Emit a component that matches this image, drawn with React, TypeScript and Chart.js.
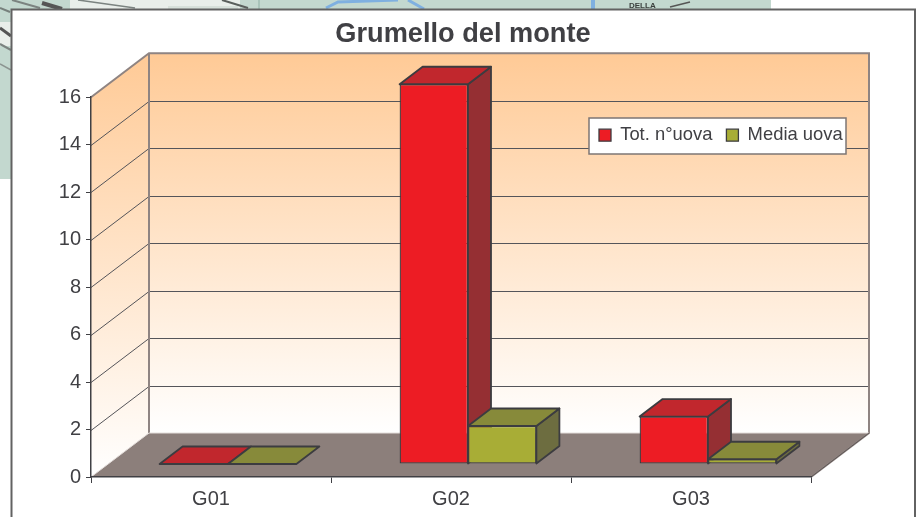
import React, { useEffect, useRef } from "react";
import { Chart, registerables } from "chart.js";

Chart.register(...registerables);

const chartTitle = "Grumello del monte";
const categories = ["G01", "G02", "G03"];
const totalEggs = [0, 16, 2];
const meanEggs = [0, 1.6, 0.2];
const seriesNames = ["Tot. n°uova", "Media uova"];

const FONT = "'Liberation Sans', Arial, sans-serif";
const INK = "#404044";
const EDGE = "#3c3c40";
const WALL_EDGE = "#8f8482";
const WALL_DX = 58;
const WALL_DY = -44;
const BAR_SHIFT_X = 17;
const BAR_SHIFT_Y = -13;
const BAR_DX = 23;
const BAR_DY = -17.5;
const EDGE_W = 1.8;
const FRONT_EDGE_W = 1.3;

const shades: Record<string, { top: string; side: string }> = {
  "#ED1C24": { top: "#C1272D", side: "#952F33" },
  "#A8AD36": { top: "#878A3A", side: "#6D6D40" },
};

function poly(ctx: CanvasRenderingContext2D, pts: number[][], fill?: string | CanvasGradient, stroke?: string, lw = 1) {
  ctx.beginPath();
  pts.forEach((p, i) => (i ? ctx.lineTo(p[0], p[1]) : ctx.moveTo(p[0], p[1])));
  ctx.closePath();
  if (fill) {
    ctx.fillStyle = fill;
    ctx.fill();
  }
  if (stroke) {
    ctx.strokeStyle = stroke;
    ctx.lineWidth = lw;
    ctx.lineJoin = "round";
    ctx.stroke();
  }
}

function line(ctx: CanvasRenderingContext2D, pts: number[][], color: string, lw = 1) {
  ctx.beginPath();
  pts.forEach((p, i) => (i ? ctx.lineTo(p[0], p[1]) : ctx.moveTo(p[0], p[1])));
  ctx.strokeStyle = color;
  ctx.lineWidth = lw;
  ctx.stroke();
}

// The map photo that shows behind the chart card
function drawBackdrop(ctx: CanvasRenderingContext2D) {
  ctx.fillStyle = "#ffffff";
  ctx.fillRect(0, 0, 919, 517);
  ctx.fillStyle = "#c3d8cf";
  ctx.fillRect(0, 0, 771, 12);
  ctx.fillRect(0, 0, 12, 179);
  ctx.fillStyle = "#e9eeea";
  ctx.fillRect(0, 22, 12, 24);
  ctx.fillRect(70, 0, 170, 12);
  ctx.fillStyle = "#a9c4ba";
  ctx.fillRect(258, 0, 2, 12);
  ctx.fillStyle = "#d7e0da";
  ctx.fillRect(168, 6, 70, 3);
  line(ctx, [[0, 8], [10, 12]], "#77807c", 2);
  line(ctx, [[0, 28], [11, 36]], "#555", 3);
  line(ctx, [[0, 44], [11, 50]], "#7b8380", 2);
  line(ctx, [[0, 64], [11, 70]], "#8b9490", 1.5);
  line(ctx, [[12, 0], [40, 8]], "#7b8380", 2);
  line(ctx, [[42, 3], [62, 9]], "#555", 4);
  line(ctx, [[78, 0], [135, 8]], "#7b8380", 1.5);
  line(ctx, [[222, 0], [248, 8]], "#5a5f5c", 2);
  line(ctx, [[326, 8], [338, 2], [398, 0]], "#7fb0e0", 3);
  line(ctx, [[408, 0], [424, 9]], "#7fb0e0", 3);
  line(ctx, [[593, 0], [593, 9]], "#7fb0e0", 4);
  ctx.fillStyle = "#3b3f3d";
  ctx.font = `bold 8px ${FONT}`;
  ctx.textBaseline = "alphabetic";
  ctx.fillText("DELLA", 629, 8);
  line(ctx, [[670, 7], [690, 2]], "#555", 1.5);
  // card
  ctx.fillStyle = "#ffffff";
  ctx.fillRect(11, 9, 904, 508);
  line(ctx, [[11.5, 517], [11.5, 9.5], [915, 9.5], [915, 517]], "#626262", 2);
}

const scenePlugin = {
  id: "scene",
  afterLayout(chart: any) {
    const tb = chart.titleBlock;
    tb.left = 11;
    tb.right = 915;
    tb.top = 18;
    tb.bottom = 18 + tb.height;
    const lg = chart.legend;
    lg.left = 585;
    lg.right = 900;
    lg.top = 112;
    lg.bottom = 112 + lg.height;
    lg.adjustHitBoxes();
  },
  beforeDraw(chart: any) {
    const { ctx } = chart;
    const x = chart.scales.x;
    const y = chart.scales.y;
    const l = x.left;
    const r = x.right;
    const t = y.top;
    const b = y.bottom;
    ctx.save();
    drawBackdrop(ctx);

    const grad = (y0: number, y1: number) => {
      const g = ctx.createLinearGradient(0, y0, 0, y1);
      g.addColorStop(0, "#FFCA96");
      g.addColorStop(1, "#FFFFFF");
      return g;
    };
    // side wall, back wall, floor
    poly(ctx, [[l, t], [l + WALL_DX, t + WALL_DY], [l + WALL_DX, b + WALL_DY], [l, b]], grad(t + WALL_DY, b));
    poly(ctx, [[l + WALL_DX, t + WALL_DY], [r + WALL_DX, t + WALL_DY], [r + WALL_DX, b + WALL_DY], [l + WALL_DX, b + WALL_DY]], grad(t + WALL_DY, b + WALL_DY));
    poly(ctx, [[l, b], [l + WALL_DX, b + WALL_DY], [r + WALL_DX, b + WALL_DY], [r, b]], "#8C7F7B");

    // grid lines, skewed along the side wall and across the back wall
    y.ticks.forEach((tick: any) => {
      if (tick.value === 0 || tick.value === y.max) return;
      const py = Math.round(y.getPixelForValue(tick.value)) + 0.5;
      line(ctx, [[l, py], [l + WALL_DX, py + WALL_DY], [r + WALL_DX, py + WALL_DY]], "#55555a", 1);
    });

    // wall edges
    line(ctx, [[l, t], [l + WALL_DX, t + WALL_DY], [r + WALL_DX, t + WALL_DY], [r + WALL_DX, b + WALL_DY], [r, b]], WALL_EDGE, 2);
    line(ctx, [[l + WALL_DX, t + WALL_DY], [l + WALL_DX, b + WALL_DY]], WALL_EDGE, 2);
    line(ctx, [[l, b], [l + WALL_DX, b + WALL_DY], [r + WALL_DX, b + WALL_DY]], "#e4dedb", 1);
    line(ctx, [[r, b], [r + WALL_DX, b + WALL_DY]], "#5f5856", 1);

    // legend frame
    ctx.fillStyle = "#ffffff";
    ctx.fillRect(589, 118, 257, 36);
    ctx.strokeStyle = "#7d7674";
    ctx.lineWidth = 1.5;
    ctx.strokeRect(589, 118, 257, 36);
    ctx.restore();
  },
  // The default draw order paints the first dataset last; the picture needs it first.
  beforeDatasetDraw() {
    return false;
  },
  afterDatasetsDraw(chart: any) {
    const { ctx } = chart;
    chart.data.datasets.forEach((ds: any, index: number) => {
      const meta = chart.getDatasetMeta(index);
      const shade = shades[ds.backgroundColor];
      ctx.save();
      ctx.translate(BAR_SHIFT_X, BAR_SHIFT_Y);
      meta.data.forEach((bar: any) => {
        const { x, y, base, width } = bar.getProps(["x", "y", "base", "width"], true);
        const x0 = x - width / 2;
        const x1 = x + width / 2;
        if (base - y > 0) {
          poly(ctx, [[x1, y], [x1 + BAR_DX, y + BAR_DY], [x1 + BAR_DX, base + BAR_DY], [x1, base]], shade.side, EDGE, EDGE_W);
        }
        poly(ctx, [[x0, y], [x0 + BAR_DX, y + BAR_DY], [x1 + BAR_DX, y + BAR_DY], [x1, y]], shade.top, EDGE, EDGE_W);
      });
      meta.controller.draw();
      ctx.restore();
    });
  },
};

export default function App() {
  const ref = useRef<HTMLCanvasElement>(null);

  useEffect(() => {
    if (!ref.current) return;
    const tickFont = { family: FONT, size: 20 };
    const chart = new Chart(ref.current, {
      type: "bar",
      data: {
        labels: categories,
        datasets: [
          {
            label: seriesNames[0],
            data: totalEggs,
            backgroundColor: "#ED1C24",
            borderColor: EDGE,
            borderWidth: FRONT_EDGE_W,
            borderSkipped: false,
          },
          {
            label: seriesNames[1],
            data: meanEggs,
            backgroundColor: "#A8AD36",
            borderColor: EDGE,
            borderWidth: FRONT_EDGE_W,
            borderSkipped: false,
          },
        ],
      },
      options: {
        responsive: false,
        animation: false,
        devicePixelRatio: 1,
        layout: { padding: { left: 11, right: 108, top: 17.2, bottom: 0 } },
        datasets: { bar: { categoryPercentage: 0.57, barPercentage: 1 } },
        scales: {
          x: {
            grid: { drawOnChartArea: false, tickLength: 6, color: INK, offset: true },
            border: { color: INK, width: 1.5 },
            ticks: { color: INK, font: tickFont, padding: 4, maxRotation: 0 },
            afterFit(scale: any) {
              scale.height = 40;
            },
          },
          y: {
            min: 0,
            max: 16,
            grid: { drawOnChartArea: false, tickLength: 5, color: INK },
            border: { color: INK, width: 1.5 },
            ticks: { stepSize: 2, color: INK, font: tickFont, padding: 5 },
            afterFit(scale: any) {
              scale.width = 80;
            },
          },
        },
        plugins: {
          title: {
            display: true,
            text: chartTitle,
            color: INK,
            font: { family: FONT, size: 27.2, weight: "bold" },
            padding: { top: 0, bottom: 5 },
          },
          legend: {
            display: true,
            position: "top",
            align: "start",
            labels: {
              color: INK,
              font: { family: FONT, size: 18.4 },
              boxWidth: 12,
              boxHeight: 12,
              padding: 14,
            },
          },
          tooltip: { enabled: false },
        },
      } as any,
      plugins: [scenePlugin],
    });
    return () => chart.destroy();
  }, []);

  return (
    <canvas
      ref={ref}
      width={919}
      height={517}
      style={{ position: "fixed", left: 0, top: 0, display: "block" }}
    />
  );
}
